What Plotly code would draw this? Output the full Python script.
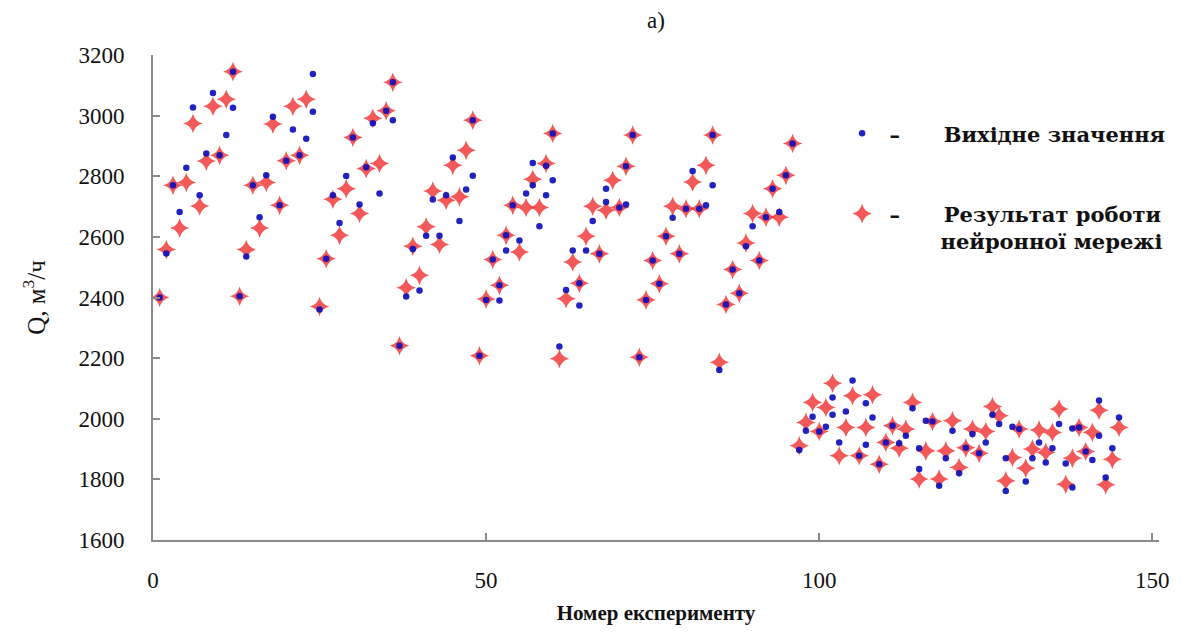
import plotly.graph_objects as go

# Neural-network flow prediction vs original values
# red = network result, blue = original value
red_x = list(range(1, 24)) + list(range(25, 146))
red_y = [
    2400, 2558, 2770, 2629, 2779, 2974, 2702, 2850, 3031, 2869, 3054, 3145,
    2404, 2558, 2770, 2629, 2779, 2972, 2704, 2851, 3031, 2869, 3054,
    2370, 2528, 2724, 2605, 2759, 2928, 2677, 2825, 2991, 2842, 3016, 3110,
    2241, 2432, 2569, 2473, 2633, 2751, 2575, 2721, 2836, 2732, 2886, 2985,
    2208, 2395, 2525, 2440, 2605, 2704, 2550, 2697, 2790, 2697, 2842, 2941,
    2198, 2396, 2517, 2447, 2602, 2701, 2544, 2688, 2787, 2697, 2833, 2936,
    2203, 2392, 2522, 2445, 2602, 2701, 2544, 2693, 2781, 2693, 2836, 2936,
    2186, 2377, 2492, 2414, 2580, 2677, 2522, 2665, 2759, 2665, 2803, 2908,
    1911, 1988, 2054, 1958, 2037, 2117, 1878, 1971, 2076, 1878, 1971, 2079,
    1850, 1922, 1977, 1903, 1966, 2054, 1801, 1894, 1991, 1801, 1894, 1993,
    1839, 1904, 1966, 1886, 1958, 2040, 2010, 1795, 1872, 1966, 1837, 1900,
    1963, 1889, 1955, 2032, 1784, 1870, 1971, 1892, 1955, 2028, 1782, 1866,
    1971,
]

blue_x = [
    1, 2, 3, 4, 5, 6, 7, 8, 9, 10, 11, 12, 12,
    13, 14, 15, 16, 17, 18, 19, 20, 21, 22, 23, 24, 24,
    25, 26, 27, 28, 29, 30, 31, 32, 33, 34, 35, 36, 36,
    37, 38, 39, 40, 41, 42, 43, 44, 45, 46, 47, 48, 48,
    49, 50, 51, 52, 52, 53, 53, 54, 55, 56, 57, 57, 58, 59, 59, 60, 60,
    61, 62, 63, 64, 64, 65, 66, 67, 68, 68, 70, 71, 71, 72,
    73, 74, 75, 76, 77, 78, 79, 80, 81, 82, 83, 84, 84,
    85, 86, 87, 88, 89, 90, 91, 92, 93, 94, 95, 96,
    97, 98, 99, 100, 101, 102, 102, 103, 104, 105, 106, 107, 107, 108,
    109, 110, 111, 112, 113, 114, 115, 115, 116, 117, 118, 119, 120,
    121, 122, 123, 124, 125, 126, 127, 128, 128, 129, 130, 131, 132,
    133, 134, 135, 136, 137, 138, 138, 139, 140, 141, 142, 142, 143,
    144, 145,
]
blue_y = [
    2400, 2545, 2770, 2682, 2828, 3027, 2737, 2875, 3075, 2869, 2936, 3026, 3145,
    2404, 2535, 2770, 2665, 2803, 2996, 2704, 2851, 2954, 2869, 2924, 3013, 3137,
    2360, 2528, 2737, 2646, 2801, 2928, 2707, 2830, 2975, 2743, 3016, 2985, 3110,
    2241, 2403, 2560, 2423, 2604, 2723, 2604, 2737, 2862, 2652, 2756, 2802, 2985,
    2208, 2392, 2525, 2440, 2390, 2555, 2605, 2704, 2588, 2743, 2844, 2770, 2635,
    2835, 2737, 2787, 2941,
    2238, 2425, 2555, 2447, 2374, 2555, 2652, 2544, 2715, 2759, 2697, 2707, 2833,
    2936,
    2203, 2392, 2522, 2445, 2602, 2663, 2544, 2693, 2817, 2693, 2704, 2770, 2936,
    2161, 2377, 2492, 2414, 2569, 2635, 2522, 2665, 2759, 2682, 2803, 2908,
    1897, 1960, 2007, 1958, 1974, 2070, 2013, 1922, 2024, 2126, 1878, 1914, 2051,
    2004,
    1850, 1922, 1977, 1919, 1944, 2035, 1903, 1834, 1993, 1991, 1779, 1870, 1960,
    1820, 1904, 1950, 1886, 1922, 2013, 1983, 1870, 1762, 1974, 1966, 1793, 1870,
    1922, 1856, 1903, 1983, 1852, 1773, 1968, 1971, 1892, 1864, 1944, 2060, 1806,
    1903, 2004,
]

y_ticks = [1600, 1800, 2000, 2200, 2400, 2600, 2800, 3000, 3200]
x_ticks = [0, 50, 100, 150]

serif = "Liberation Serif, Times New Roman, serif"
sp = "\u00a0"

fig = go.Figure()
fig.add_trace(
    go.Scatter(
        x=red_x,
        y=red_y,
        mode="markers",
        name="<b>" + sp + "–" + sp * 6 + "Результат роботи<br>" + sp * 8 + "нейронної мережі</b>",
        legendrank=2,
        legendgroup="r",
        marker=dict(symbol="star-diamond", size=14, color="rgba(242,60,60,0.85)",
                    line=dict(width=0)),
    )
)
fig.add_trace(
    go.Scatter(
        x=blue_x,
        y=blue_y,
        mode="markers",
        name="<b>" + sp + "–" + sp * 6 + "Вихідне значення</b>",
        legendrank=1,
        legendgroup="b",
        marker=dict(symbol="circle", size=6.5, color="rgba(15,15,185,0.92)",
                    line=dict(width=0)),
    )
)

axis_style = dict(
    showgrid=False,
    zeroline=False,
    showline=True,
    automargin=False,
    linecolor="#8a8a8a",
    linewidth=2,
    ticks="inside",
    ticklen=7,
    tickwidth=2,
    tickcolor="#8a8a8a",
    tickfont=dict(family=serif, size=23, color="#111"),
)

fig.update_xaxes(
    range=[0, 151],
    tickvals=x_ticks,
    ticklabelstandoff=18,
    title=dict(text="<b>Номер експерименту</b>", font=dict(family=serif, size=21, color="#111"),
               standoff=14),
    **axis_style,
)
fig.update_yaxes(
    range=[1600, 3200],
    tickvals=y_ticks,
    ticklabelstandoff=22,
    title=dict(text="Q, м<sup>3</sup>/ч", font=dict(family=serif, size=25, color="#111"),
               standoff=26),
    **axis_style,
)

fig.add_annotation(
    text="а)", x=0.5, y=1.072, xref="paper", yref="paper", yanchor="middle",
    showarrow=False, font=dict(family=serif, size=23, color="#111"),
)

fig.update_layout(
    width=1187,
    height=632,
    paper_bgcolor="white",
    plot_bgcolor="white",
    margin=dict(l=153, r=28, t=55, b=92),
    legend=dict(
        x=0.685, y=0.88, xanchor="left", yanchor="top",
        font=dict(family="DejaVu Serif, serif", size=21, color="#111"),
        traceorder="grouped", tracegroupgap=50, valign="top",
        bgcolor="rgba(0,0,0,0)",
    ),
)

# drop the default 8px body margin so the figure sits at the page corner
fig.write_html(
    "out.html",
    config={"displayModeBar": False},
    post_script="document.body.style.margin = '0';",
)
